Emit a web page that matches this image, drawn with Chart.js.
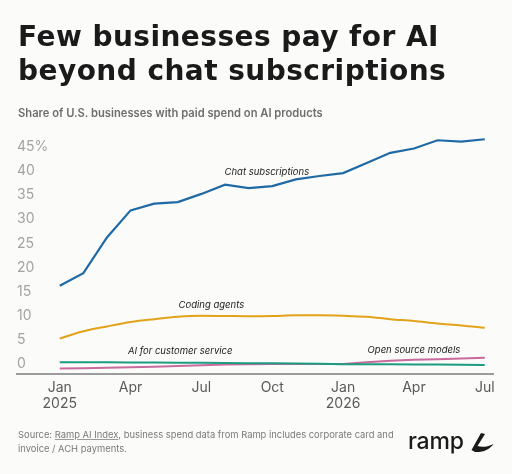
<!DOCTYPE html>
<html>
<head>
<meta charset="utf-8">
<script src="https://cdn.jsdelivr.net/npm/chart.js@4.4.1/dist/chart.umd.min.js"></script>
<style>
  html, body { margin: 0; padding: 0; background: #fbfbf9; }
  #wrap { position: relative; width: 512px; height: 474px; overflow: hidden; font-family: Inter, "Noto Sans", sans-serif; }
  #aiChart { position: absolute; left: 0; top: 0; }
  h1 { position: absolute; left: 18px; top: 20px; margin: 0; font-family: "DejaVu Sans", Inter, sans-serif; font-size: 28px; line-height: 34px; font-weight: 700; color: #1a1a1a; letter-spacing: 0.45px; white-space: nowrap; }
  .sub { position: absolute; left: 18px; top: 106px; margin: 0; font-size: 11.2px; font-weight: 600; color: #6e6e6e; }
  .src { position: absolute; left: 18px; top: 428px; margin: 0; white-space: nowrap; font-size: 9.4px; line-height: 14px; color: #7a7a7a; }
  .src u { text-decoration-color: #9a9a9a; }
  .logo { position: absolute; left: 408px; top: 427px; font-size: 23px; font-weight: 500; color: #1a1a1a; letter-spacing: -0.2px; }
  .logo svg { position: absolute; left: 62px; top: 6px; }
</style>
</head>
<body>
<div id="wrap">
  <canvas id="aiChart" width="512" height="474"></canvas>
  <h1>Few businesses pay for AI<br>beyond chat subscriptions</h1>
  <p class="sub">Share of U.S. businesses with paid spend on AI products</p>
  <p class="src">Source: <u>Ramp AI Index</u>, business spend data from Ramp includes corporate card and<br>invoice / ACH payments.</p>
  <div class="logo">ramp<svg width="24" height="20" viewBox="0 0 24 20"><path d="M11 0 L15 1 L7.5 13 C12 14.5 17 14 23.5 11 C19 17 13 19.5 5 19 L1.5 17 Z" fill="#1a1a1a"/></svg></div>
</div>
<script>
// months Jan 2025 .. Jul 2026 (index 0..18)
const months = ['Jan 2025','Feb 2025','Mar 2025','Apr 2025','May 2025','Jun 2025','Jul 2025','Aug 2025','Sep 2025','Oct 2025','Nov 2025','Dec 2025',
                'Jan 2026','Feb 2026','Mar 2026','Apr 2026','May 2026','Jun 2026','Jul 2026'];
const chatSubscriptions = [18.3, 20.9, 28.3, 33.9, 35.3, 35.6, 37.3, 39.2, 38.5, 38.9, 40.3, 41.0, 41.6, 43.7, 45.8, 46.7, 48.4, 48.1, 48.6];
const codingAgents = [7.4, 8.9, 9.9, 10.8, 11.4, 11.9, 12.1, 12.05, 12.0, 12.05, 12.2, 12.2, 12.1, 11.9, 11.4, 11.0, 10.5, 10.1, 9.6];
const customerService = [2.5, 2.5, 2.5, 2.45, 2.45, 2.4, 2.4, 2.35, 2.3, 2.3, 2.25, 2.2, 2.1, 2.1, 2.05, 2.0, 2.0, 1.95, 1.9];
const openSource = [1.2, 1.25, 1.35, 1.45, 1.55, 1.7, 1.85, 2.0, 2.1, 2.15, 2.15, 2.15, 2.15, 2.5, 2.8, 3.0, 3.1, 3.25, 3.4];

const xTicks = [0, 3, 6, 9, 12, 15, 18];
const xTickLabels = [['Jan', '2025'], 'Apr', 'Jul', 'Oct', ['Jan', '2026'], 'Apr', 'Jul'];
const yTicks = [0, 5, 10, 15, 20, 25, 30, 35, 40, 45];

const pts = arr => arr.map((v, i) => ({ x: i, y: v }));

// line names written next to the lines (x = month index, y = value)
const lineLabels = [
  { text: 'Chat subscriptions', x: 8.77, y: 41.7 },
  { text: 'Coding agents', x: 6.42, y: 14.3 },
  { text: 'AI for customer service', x: 5.1, y: 4.8 },
  { text: 'Open source models', x: 15.0, y: 4.96 }
];

const lineLabelPlugin = {
  id: 'lineLabels',
  afterDatasetsDraw(chart) {
    const { ctx, scales: { x, y } } = chart;
    ctx.save();
    ctx.font = 'italic 9.5px Inter, "Noto Sans", sans-serif';
    ctx.fillStyle = '#222';
    ctx.textAlign = 'center';
    ctx.textBaseline = 'middle';
    lineLabels.forEach(l => ctx.fillText(l.text, x.getPixelForValue(l.x), y.getPixelForValue(l.y)));
    ctx.restore();
  }
};

const ctx = document.getElementById('aiChart').getContext('2d');
const aiChart = new Chart(ctx, {
  type: 'line',
  data: {
    datasets: [
      { label: 'Chat subscriptions', data: pts(chatSubscriptions), borderColor: '#1f6aa5', borderWidth: 2.2, tension: 0 },
      { label: 'Coding agents', data: pts(codingAgents), borderColor: '#e2a31b', borderWidth: 2, tension: 0.4, cubicInterpolationMode: 'monotone' },
      { label: 'AI for customer service', data: pts(customerService), borderColor: '#1c9c80', borderWidth: 2, tension: 0 },
      { label: 'Open source models', data: pts(openSource), borderColor: '#c96a9f', borderWidth: 2, tension: 0 }
    ]
  },
  options: {
    responsive: false,
    animation: false,
    layout: { padding: { top: 132.5, left: 17, right: 18.7, bottom: 56.5 } },
    elements: { point: { radius: 0 } },
    plugins: { legend: { display: false }, tooltip: { enabled: false } },
    scales: {
      x: {
        type: 'linear',
        min: -1.81,
        max: 18.36,
        afterBuildTicks: s => { s.ticks = xTicks.map(v => ({ value: v })); },
        ticks: {
          callback: (v) => xTickLabels[xTicks.indexOf(v)],
          color: '#5a5a5a',
          font: { family: 'Inter, "Noto Sans", sans-serif', size: 14, lineHeight: 1.115 },
          padding: 6,
          maxRotation: 0,
          autoSkip: false
        },
        grid: { display: false, drawTicks: false },
        border: { display: true, color: '#9c9c9c', width: 2 }
      },
      y: {
        min: 0,
        max: 50,
        afterBuildTicks: s => { s.ticks = yTicks.map(v => ({ value: v })); },
        ticks: {
          mirror: true,
          padding: 0,
          labelOffset: -10,
          callback: v => v === 45 ? '45%' : String(v),
          color: '#a3a3a3',
          font: { family: 'Inter, "Noto Sans", sans-serif', size: 14 }
        },
        grid: { display: false, drawTicks: false },
        border: { display: false }
      }
    }
  },
  plugins: [lineLabelPlugin]
});
</script>
</body>
</html>
